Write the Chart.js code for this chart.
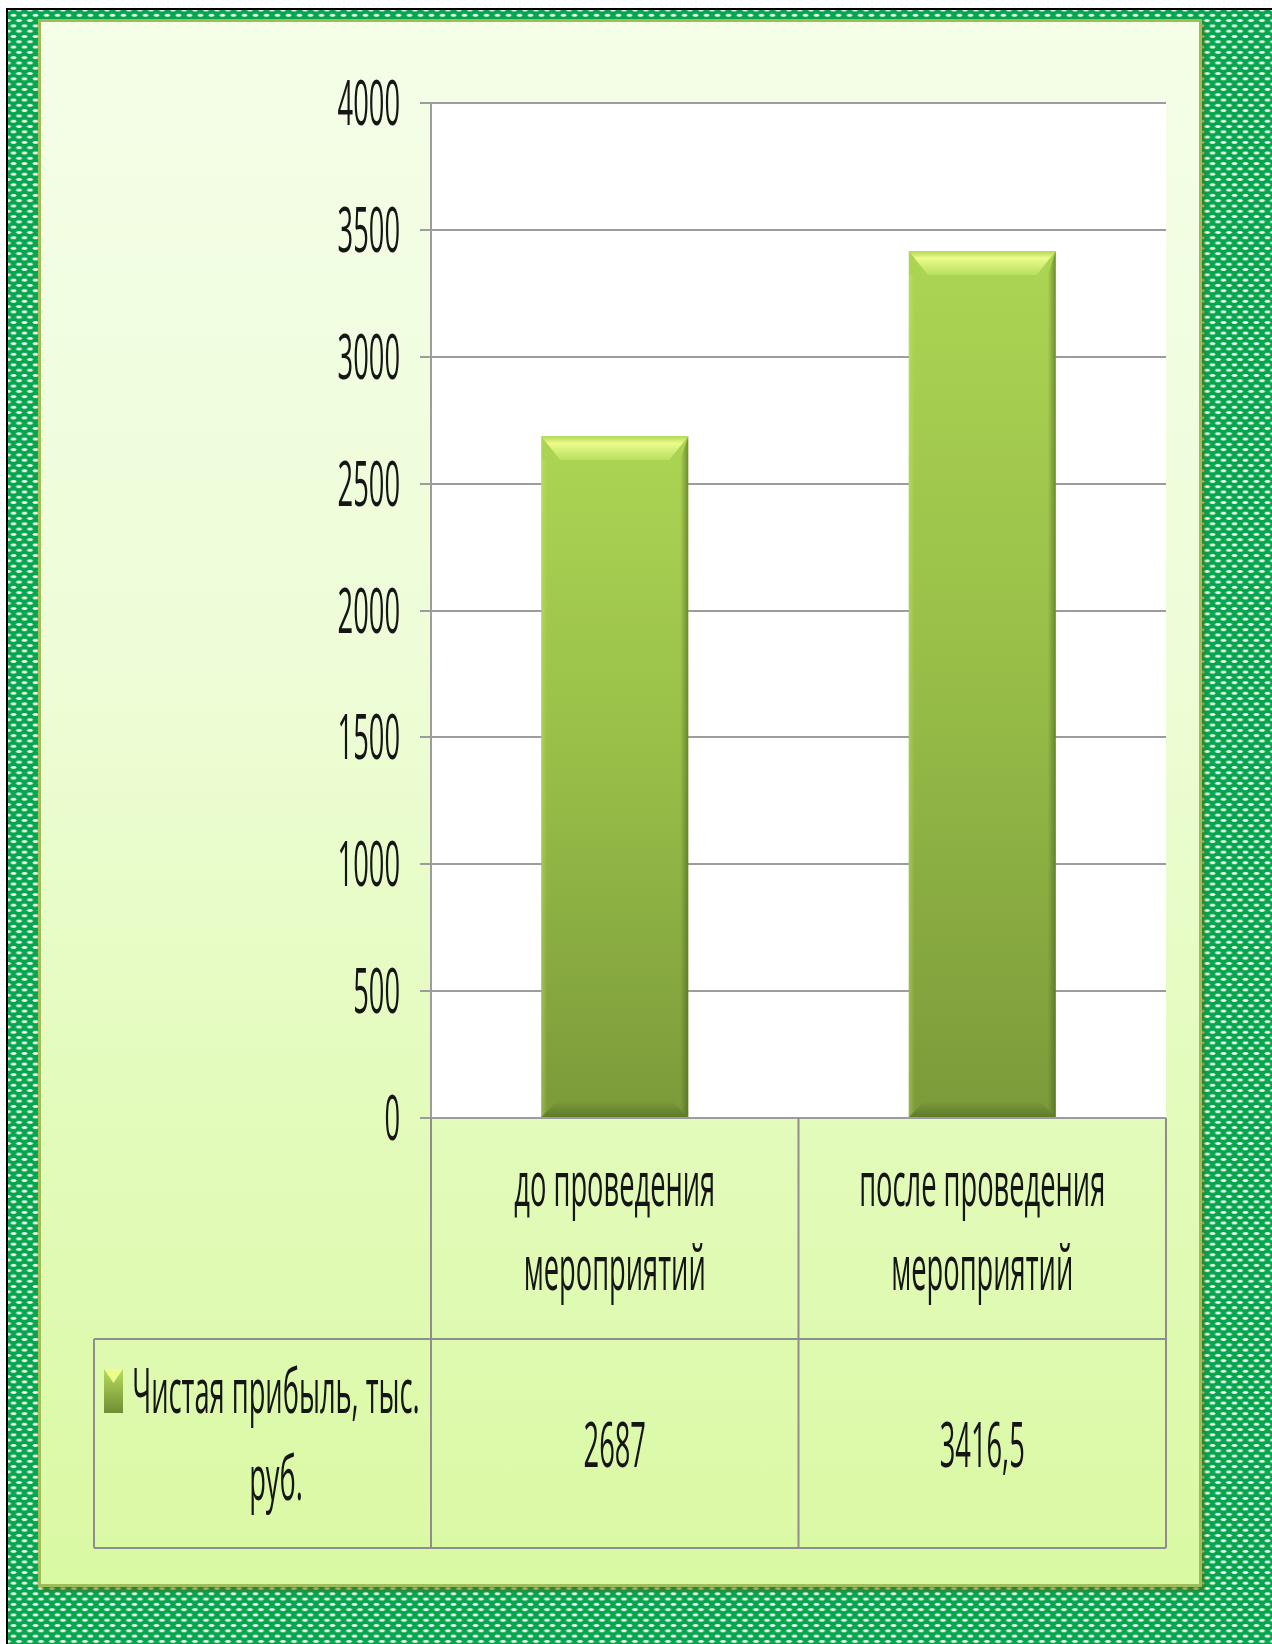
<!DOCTYPE html>
<html lang="ru">
<head>
<meta charset="utf-8">
<title>Чистая прибыль, тыс. руб.</title>
<script src="https://cdn.jsdelivr.net/npm/chart.js@4.4.1/dist/chart.umd.min.js"></script>
<style>
    html, body { margin: 0; padding: 0; background: #fff; }
    body { width: 1272px; height: 1644px; position: relative; overflow: hidden; }
    .frame {
        position: absolute; left: 6px; top: 8px; right: 0; bottom: 0;
        border-left: 2px solid #000; border-top: 2px solid #000;
        background-color: #06a54e;
        background-image:
            radial-gradient(3.6px 1.6px at 50% 50%, #ffffff 0%, #ffffff 45%, #c8efd4 70%, rgba(255,255,255,0) 100%),
            radial-gradient(3.6px 1.6px at 50% 50%, #ffffff 0%, #ffffff 45%, #c8efd4 70%, rgba(255,255,255,0) 100%);
        background-size: 11px 10.6px;
        background-position: 0 0, 5.5px 5.3px;
    }
    .panel {
        position: absolute; left: 38px; top: 19px; width: 1164px; height: 1568px;
        box-sizing: border-box; border: 3px solid #9dbd58;
        background: linear-gradient(180deg, #f4fee8 0%, #eefdd8 40%, #e3fbbb 70%, #daf9a3 100%);
        box-shadow: 3px 4px 3px rgba(80, 110, 20, 0.6);
    }
    #wrap { position: absolute; left: 0; top: 0; width: 1272px; height: 1644px; }
</style>
</head>
<body>
<div class="frame"></div>
<div class="panel"></div>
<div id="wrap"><canvas id="profitChart" width="1272" height="1644"></canvas></div>
<script>
const categories = ['до проведения мероприятий', 'после проведения мероприятий'];
const categoryLines = [['до проведения', 'мероприятий'], ['после проведения', 'мероприятий']];
const seriesName = 'Чистая прибыль, тыс. руб.';
const legendLines = ['Чистая прибыль, тыс.', 'руб.'];
const profit = [2687, 3416.5];
const yMax = 4000;
const yStep = 500;

const TEXT_SX = 0.44;
const FONT = '62px "Open Sans", "DejaVu Sans", sans-serif';
const LINE_COLOR = '#8e8e8e';

function drawText(ctx, str, x, y, align) {
    ctx.save();
    ctx.translate(x, y);
    ctx.scale(TEXT_SX, 1);
    ctx.font = FONT;
    ctx.fillStyle = '#151515';
    ctx.textAlign = align || 'center';
    ctx.textBaseline = 'alphabetic';
    ctx.fillText(str, 0, 0);
    ctx.restore();
}

function formatValue(v) {
    return String(v).replace('.', ',');
}

function line(ctx, x1, y1, x2, y2) {
    ctx.beginPath();
    ctx.moveTo(x1, y1);
    ctx.lineTo(x2, y2);
    ctx.stroke();
}

const plotBackground = {
    id: 'plotBackground',
    beforeDraw(chart) {
        const { ctx, chartArea: a } = chart;
        ctx.save();
        ctx.fillStyle = '#ffffff';
        ctx.fillRect(a.left, a.top, a.right - a.left, a.bottom - a.top);
        ctx.restore();
    }
};

// bevel look on the bars
const barBevel = {
    id: 'barBevel',
    afterDatasetsDraw(chart) {
        const ctx = chart.ctx;
        const meta = chart.getDatasetMeta(0);
        const b = 24;
        meta.data.forEach(el => {
            const { x, y, base, width } = el.getProps(['x', 'y', 'base', 'width'], true);
            const l = x - width / 2, r = x + width / 2;
            ctx.save();
            // top bright trapezoid
            let g = ctx.createLinearGradient(0, y, 0, y + b);
            g.addColorStop(0, 'rgba(180, 215, 85, 1)');
            g.addColorStop(0.3, 'rgba(236, 252, 140, 1)');
            g.addColorStop(1, 'rgba(185, 225, 95, 0.9)');
            ctx.fillStyle = g;
            ctx.beginPath();
            ctx.moveTo(l, y); ctx.lineTo(r, y); ctx.lineTo(r - b * 0.8, y + b); ctx.lineTo(l + b * 0.8, y + b);
            ctx.closePath(); ctx.fill();
            // right side dark strip
            g = ctx.createLinearGradient(r - 8, 0, r, 0);
            g.addColorStop(0, 'rgba(70, 95, 25, 0)');
            g.addColorStop(1, 'rgba(70, 95, 25, 0.6)');
            ctx.fillStyle = g;
            ctx.beginPath();
            ctx.moveTo(r, y); ctx.lineTo(r, base); ctx.lineTo(r - 8, base - 8); ctx.lineTo(r - 8, y + b);
            ctx.closePath(); ctx.fill();
            // left side light strip
            g = ctx.createLinearGradient(l, 0, l + 6, 0);
            g.addColorStop(0, 'rgba(210, 240, 120, 0.35)');
            g.addColorStop(1, 'rgba(210, 240, 120, 0)');
            ctx.fillStyle = g;
            ctx.fillRect(l, y + b, 6, base - y - b);
            // bottom dark trapezoid
            g = ctx.createLinearGradient(0, base - 16, 0, base);
            g.addColorStop(0, 'rgba(80, 105, 35, 0)');
            g.addColorStop(1, 'rgba(80, 105, 35, 0.65)');
            ctx.fillStyle = g;
            ctx.beginPath();
            ctx.moveTo(l, base); ctx.lineTo(r, base); ctx.lineTo(r - 16, base - 16); ctx.lineTo(l + 16, base - 16);
            ctx.closePath(); ctx.fill();
            ctx.restore();
        });
    }
};

// y labels, data table and legend key
const tableAndLabels = {
    id: 'tableAndLabels',
    afterDraw(chart) {
        const { ctx, chartArea: a, scales } = chart;
        const y = scales.y, x = scales.x;

        y.ticks.forEach(t => {
            drawText(ctx, String(t.value), 400, y.getPixelForValue(t.value) + 22, 'right');
        });

        const top = a.bottom;
        const rowY = a.bottom + 221;
        const bottom = a.bottom + 430;
        const legendLeft = 94;
        const mid = (x.getPixelForValue(0) + x.getPixelForValue(1)) / 2;

        ctx.save();
        ctx.strokeStyle = LINE_COLOR;
        ctx.lineWidth = 2;
        line(ctx, a.left, top, a.left, bottom);
        line(ctx, mid, top, mid, bottom);
        line(ctx, a.right, top, a.right, bottom);
        line(ctx, legendLeft, rowY, a.right, rowY);
        line(ctx, legendLeft, bottom, a.right, bottom);
        line(ctx, legendLeft, rowY, legendLeft, bottom);
        ctx.restore();

        categories.forEach((c, i) => {
            const cx = x.getPixelForValue(i);
            drawText(ctx, categoryLines[i][0], cx, top + 88);
            drawText(ctx, categoryLines[i][1], cx, top + 172);
            drawText(ctx, formatValue(profit[i]), cx, top + 349);
        });

        // legend key
        const kx = legendLeft + 10, ky = top + 251, kw = 19, kh = 44;
        ctx.save();
        let g = ctx.createLinearGradient(0, ky, 0, ky + kh);
        g.addColorStop(0, '#b8dd5c');
        g.addColorStop(1, '#6f8d33');
        ctx.fillStyle = g;
        ctx.fillRect(kx, ky, kw, kh);
        ctx.fillStyle = '#eefb8e';
        ctx.beginPath();
        ctx.moveTo(kx, ky); ctx.lineTo(kx + kw, ky); ctx.lineTo(kx + kw / 2, ky + 14);
        ctx.closePath(); ctx.fill();
        ctx.restore();

        const textCenter = 276;
        drawText(ctx, legendLines[0], textCenter, top + 295);
        drawText(ctx, legendLines[1], textCenter, top + 382);
    }
};

function barFill(c) {
    const chart = c.chart;
    const y = chart.scales && chart.scales.y;
    if (!y || c.type !== 'data') return '#98c247';
    const top = y.getPixelForValue(c.raw);
    const base = y.getPixelForValue(0);
    if (!isFinite(top) || !isFinite(base) || base <= top) return '#98c247';
    const g = chart.ctx.createLinearGradient(0, top, 0, base);
    g.addColorStop(0, '#acd553');
    g.addColorStop(0.5, '#97bd48');
    g.addColorStop(1, '#7b9a3a');
    return g;
}

new Chart(document.getElementById('profitChart'), {
    type: 'bar',
    data: {
        labels: categories,
        datasets: [{
            label: seriesName,
            data: profit,
            backgroundColor: barFill,
            borderWidth: 0,
            barPercentage: 0.4,
            categoryPercentage: 1
        }]
    },
    options: {
        responsive: false,
        devicePixelRatio: 1,
        animation: false,
        layout: {
            padding: { left: 420, right: 106, top: 103, bottom: 526 }
        },
        scales: {
            x: { display: false },
            y: {
                min: 0,
                max: yMax,
                ticks: { stepSize: yStep, display: false },
                grid: { color: '#9c9c9c', lineWidth: 2, tickLength: 11, drawTicks: true },
                border: { color: '#9c9c9c', width: 2 },
                afterFit(s) { s.width = 11; }
            }
        },
        plugins: {
            legend: { display: false },
            tooltip: { enabled: false }
        }
    },
    plugins: [plotBackground, barBevel, tableAndLabels]
});
</script>
</body>
</html>
